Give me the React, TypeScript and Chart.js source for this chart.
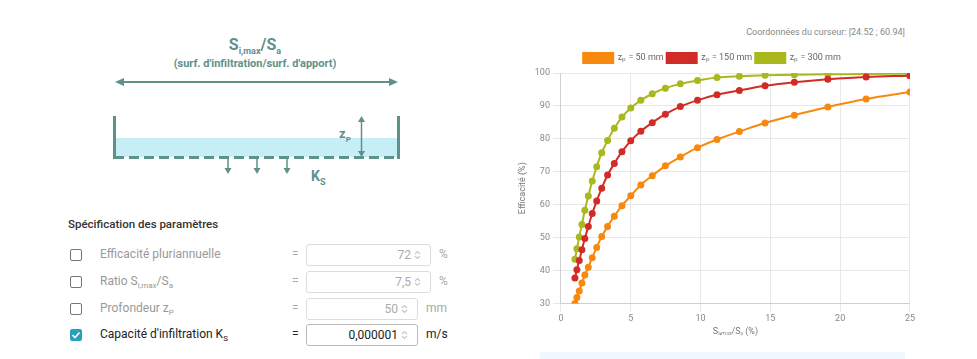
import React, { useEffect, useRef } from "react";
import { Chart, registerables } from "chart.js";

Chart.register(...registerables);

const ratioX = [1, 1.14, 1.31, 1.5, 1.71, 1.96, 2.24, 2.56, 2.92, 3.34, 3.82, 4.37, 5.0, 5.72, 6.54, 7.48, 8.55, 9.78, 11.18, 12.78, 14.62, 16.72, 19.12, 21.86, 25];
const eff50 = [30, 31.8, 33.8, 36.2, 38.6, 41.0, 43.9, 47.0, 50.3, 53.4, 56.5, 59.7, 62.7, 66.0, 68.8, 71.8, 74.5, 77.3, 79.8, 82.2, 84.8, 87.2, 89.7, 92.1, 94.2];
const eff150 = [37.7, 40.2, 43.0, 46.3, 49.7, 53.4, 57.3, 61.1, 65.0, 69.0, 72.5, 76.1, 79.4, 82.3, 84.9, 87.5, 89.8, 91.7, 93.4, 94.7, 96.1, 97.2, 98.1, 98.8, 99.2];
const eff300 = [43.4, 46.6, 50.2, 54.0, 58.3, 62.6, 67.2, 71.5, 75.8, 79.5, 83.2, 86.6, 89.4, 91.7, 93.7, 95.4, 96.7, 97.7, 98.6, 99.0, 99.3, 99.5, 99.6, 99.7, 99.8];
const seriesLabels = ["zₚ = 50 mm", "zₚ = 150 mm", "zₚ = 300 mm"];
const seriesColors = ["#f7890f", "#d22c26", "#a9b81c"];
const cursorText = "Coordonnées du curseur: [24.52 ; 60.94]";

const TEAL = "#5e9189";

function EffChart() {
  const ref = useRef<HTMLCanvasElement>(null);
  useEffect(() => {
    const series = [eff50, eff150, eff300];
    const chart = new Chart(ref.current!, {
      type: "line",
      data: {
        datasets: series.map((s, i) => ({
          label: seriesLabels[i],
          data: s.map((y, j) => ({ x: ratioX[j], y })),
          borderColor: seriesColors[i],
          backgroundColor: seriesColors[i],
          pointBackgroundColor: seriesColors[i],
          pointBorderColor: seriesColors[i],
          pointRadius: 2.5,
          borderWidth: 2,
          tension: 0.4,
          fill: false,
        })),
      },
      options: {
        animation: false,
        responsive: false,
        devicePixelRatio: 1,
        layout: { padding: { left: 8, right: 6, top: 30, bottom: 4 } },
        plugins: {
          title: { display: false },
          legend: {
            display: true,
            labels: {
              boxWidth: 30,
              boxHeight: 10,
              color: "#666",
              font: { family: "Roboto", size: 9 },
              padding: 3,
            },
          },
          tooltip: { enabled: false },
        },
        scales: {
          x: {
            type: "linear",
            min: 0,
            max: 25,
            ticks: { stepSize: 5, padding: 2, color: "#888", font: { family: "Roboto", size: 9 } },
            grid: { color: "#e8e8e8" },
            border: { color: "#d0d0d0" },
            title: {
              display: true,
              text: "Sᵢ,ₘₐₓ/Sₐ (%)",
              color: "#777",
              padding: { top: 0, bottom: 4 },
              font: { family: "Roboto", size: 9 },
            },
          },
          y: {
            min: 30,
            max: 100,
            ticks: { stepSize: 10, color: "#888", font: { family: "Roboto", size: 9 } },
            grid: { color: "#e8e8e8" },
            border: { color: "#d0d0d0" },
            title: {
              display: true,
              text: "Efficacité (%)",
              color: "#777",
              font: { family: "Roboto", size: 9 },
            },
          },
        },
      },
    });
    return () => chart.destroy();
  }, []);
  return <canvas ref={ref} width={412} height={325} style={{ position: "absolute", left: 505, top: 20 }} />;
}

function Spinner() {
  return (
    <svg width={7} height={10} style={{ position: "absolute", right: 9, top: 5 }}>
      <polyline points="1,4 3.5,1.5 6,4" fill="none" stroke="#c8c8c8" strokeWidth={1.2} />
      <polyline points="1,6 3.5,8.5 6,6" fill="none" stroke="#c8c8c8" strokeWidth={1.2} />
    </svg>
  );
}

function Row(props: { top: number; label: React.ReactNode; value: string; unit: string; width: number; active?: boolean }) {
  const { top, label, value, unit, width, active } = props;
  const txtColor = active ? "#222" : "#999";
  return (
    <div style={{ position: "absolute", left: 0, top, height: 22, width: 460 }}>
      <div
        style={{
          position: "absolute",
          left: 70,
          top: 5,
          width: 12,
          height: 12,
          boxSizing: "border-box",
          border: active ? "none" : "1.5px solid #777",
          background: active ? "#2aa0bd" : "#fff",
          borderRadius: 2,
        }}
      >
        {active && (
          <svg width={12} height={12} style={{ position: "absolute", left: 0, top: 0 }}>
            <polyline points="2.5,6 5,8.5 9.5,3.5" fill="none" stroke="#fff" strokeWidth={1.6} />
          </svg>
        )}
      </div>
      <div style={{ position: "absolute", left: 100, top: 3, fontSize: 12, color: txtColor, whiteSpace: "nowrap" }}>{label}</div>
      <div style={{ position: "absolute", left: 292, top: 3, fontSize: 12, color: active ? "#222" : "#aaa" }}>=</div>
      <div
        style={{
          position: "absolute",
          left: 306,
          top: 0,
          width,
          height: 22,
          boxSizing: "border-box",
          border: active ? "1px solid #bbb" : "1px solid #ddd",
          borderRadius: 3,
          background: "#fff",
          textAlign: "right",
          paddingRight: 19,
          fontSize: 12,
          lineHeight: "20px",
          color: active ? "#222" : "#aaa",
        }}
      >
        {value}
        <Spinner />
      </div>
      <div style={{ position: "absolute", left: 306 + width + 8, top: 3, fontSize: 12, color: active ? "#222" : "#aaa" }}>{unit}</div>
    </div>
  );
}

function Diagram() {
  return (
    <>
      <div style={{ position: "absolute", left: 110, top: 36, width: 290, textAlign: "center", color: TEAL, fontWeight: 700, fontSize: 16, lineHeight: "18px" }}>
        S<sub style={{ fontSize: 9 }}>i,max</sub>/S<sub style={{ fontSize: 9 }}>a</sub>
      </div>
      <div style={{ position: "absolute", left: 110, top: 57, width: 290, textAlign: "center", color: TEAL, fontWeight: 700, fontSize: 11 }}>
        (surf. d'infiltration/surf. d'apport)
      </div>
      <svg width={460} height={200} style={{ position: "absolute", left: 0, top: 0 }}>
        <rect x={116} y={138} width={281} height={19} fill="#c6eef6" />
        <line x1={119} y1={82} x2={394} y2={82} stroke={TEAL} strokeWidth={2} />
        <polygon points="115,82 124,78 124,86" fill={TEAL} />
        <polygon points="398,82 389,78 389,86" fill={TEAL} />
        <line x1={114.5} y1={116} x2={114.5} y2={159} stroke={TEAL} strokeWidth={3} />
        <line x1={398.5} y1={116} x2={398.5} y2={159} stroke={TEAL} strokeWidth={3} />
        <line x1={114} y1={157.5} x2={399} y2={157.5} stroke={TEAL} strokeWidth={3} strokeDasharray="10,5" />
        <line x1={361.5} y1={119} x2={361.5} y2={154} stroke={TEAL} strokeWidth={1.5} />
        <polygon points="361.5,116 358,122 365,122" fill={TEAL} />
        <polygon points="361.5,157 358,151 365,151" fill={TEAL} />
        {[228, 257, 287].map((x) => (
          <g key={x}>
            <line x1={x} y1={158} x2={x} y2={169} stroke={TEAL} strokeWidth={1.5} />
            <polygon points={`${x},174 ${x - 3.5},168 ${x + 3.5},168`} fill={TEAL} />
          </g>
        ))}
      </svg>
      <div style={{ position: "absolute", left: 339, top: 126, color: TEAL, fontWeight: 700, fontSize: 13 }}>
        z<sub style={{ fontSize: 8 }}>P</sub>
      </div>
      <div style={{ position: "absolute", left: 311, top: 168, color: TEAL, fontWeight: 700, fontSize: 14 }}>
        K<sub style={{ fontSize: 9 }}>S</sub>
      </div>
    </>
  );
}

export default function App() {
  return (
    <div style={{ position: "relative", width: 961, height: 351, fontFamily: "Roboto, sans-serif", overflow: "hidden" }}>
      <div style={{ position: "absolute", left: -8, top: -8, width: 977, height: 359 }}>
        <Diagram />
        <div style={{ position: "absolute", left: 68, top: 217, fontSize: 11.5, fontWeight: 500, color: "#333" }}>Spécification des paramètres</div>
        <Row top={244} label="Efficacité pluriannuelle" value="72" unit="%" width={125} />
        <Row
          top={271}
          label={
            <>
              Ratio S<sub style={{ fontSize: 8 }}>i,max</sub>/S<sub style={{ fontSize: 8 }}>a</sub>
            </>
          }
          value="7,5"
          unit="%"
          width={125}
        />
        <Row
          top={298}
          label={
            <>
              Profondeur z<sub style={{ fontSize: 8 }}>P</sub>
            </>
          }
          value="50"
          unit="mm"
          width={112}
        />
        <Row
          top={324}
          label={
            <>
              Capacité d'infiltration K<sub style={{ fontSize: 8 }}>S</sub>
            </>
          }
          value="0,000001"
          unit="m/s"
          width={112}
          active
        />
        <div style={{ position: "absolute", left: 600, top: 27, width: 305, textAlign: "right", fontSize: 9, color: "#888", whiteSpace: "nowrap" }}>{cursorText}</div>
        <EffChart />
        <div style={{ position: "absolute", left: 540, top: 352, width: 365, height: 10, background: "#f0f9fd" }} />
      </div>
    </div>
  );
}
